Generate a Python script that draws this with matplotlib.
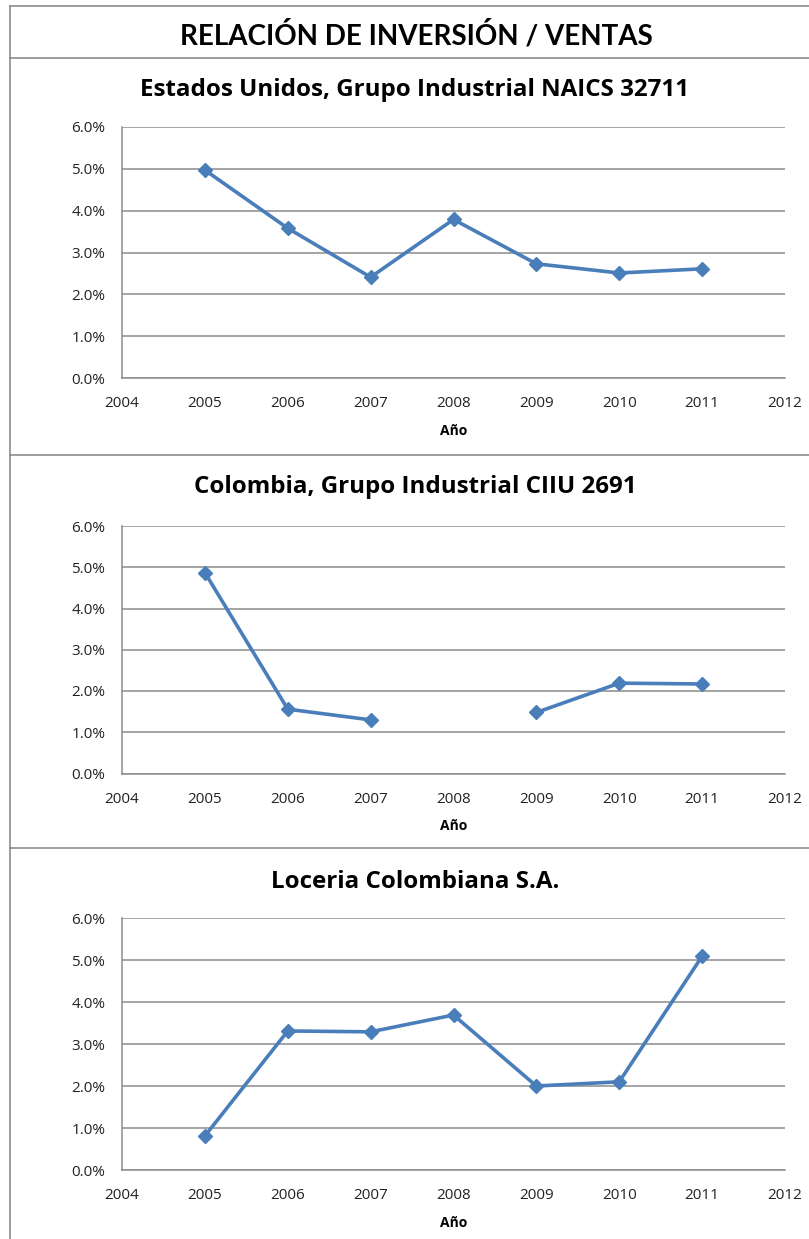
import numpy as np
import matplotlib.pyplot as plt
from matplotlib.lines import Line2D
from matplotlib.ticker import FuncFormatter

plt.rcParams['font.family'] = ['Open Sans', 'DejaVu Sans']

years = [2005, 2006, 2007, 2008, 2009, 2010, 2011]
usa = [4.97, 3.58, 2.41, 3.79, 2.73, 2.51, 2.61]
colombia = [4.87, 1.56, 1.30, np.nan, 1.48, 2.19, 2.17]
loceria = [0.81, 3.31, 3.29, 3.69, 2.00, 2.10, 5.09]

titles = ["Estados Unidos, Grupo Industrial NAICS 32711",
          "Colombia, Grupo Industrial CIIU 2691",
          "Loceria Colombiana S.A."]
series = [usa, colombia, loceria]

W, H = 809, 1239
fig = plt.figure(figsize=(W / 100, H / 100), dpi=100)

def fx(px):
    return px / W

def fy(py):
    return 1 - py / H

gray = '#8c8c8c'
blue = '#4a7ebb'

# frame lines
for y in [6, 58, 455, 848]:
    fig.add_artist(Line2D([fx(10), 1], [fy(y), fy(y)], color=gray, lw=1.2))
fig.add_artist(Line2D([fx(10), fx(10)], [fy(6), 0], color=gray, lw=1.2))

fig.text(fx(416), fy(35), "RELACIÓN DE INVERSIÓN / VENTAS", ha='center', va='center',
         fontsize=20, fontweight='bold', family=['Lato', 'DejaVu Sans'])

# plot areas: (top px, bottom px), subtitle y
boxes = [(127, 378, 90), (526, 773.5, 487), (918, 1170, 882)]

for (top, bot, ty), title, vals in zip(boxes, titles, series):
    ax = fig.add_axes([fx(122), fy(bot), fx(785) - fx(122), (bot - top) / H])
    fig.text(fx(415), fy(ty), title, ha='center', va='center', fontsize=17.4, fontweight='bold')
    ax.plot(years, vals, color=blue, lw=2.6, marker='D', ms=7, zorder=3)
    ax.set_xlim(2004, 2012)
    ax.set_ylim(0, 6)
    ax.set_xticks(range(2004, 2013))
    ax.set_yticks(np.arange(0, 7, 1))
    ax.yaxis.set_major_formatter(FuncFormatter(lambda v, p: f"{v:.1f}%"))
    ax.grid(axis='y', color=gray, lw=1.1)
    ax.set_axisbelow(True)
    for s in ['top', 'right']:
        ax.spines[s].set_visible(False)
    for s in ['left', 'bottom']:
        ax.spines[s].set_color(gray)
        ax.spines[s].set_linewidth(1.1)
    ax.tick_params(length=0, labelsize=11, colors='#222222')
    ax.tick_params(axis='y', pad=12)
    ax.tick_params(axis='x', pad=13)
    ax.set_xlabel("Año", fontsize=10, fontweight='bold', labelpad=9)

fig.savefig("out.png", dpi=100)
